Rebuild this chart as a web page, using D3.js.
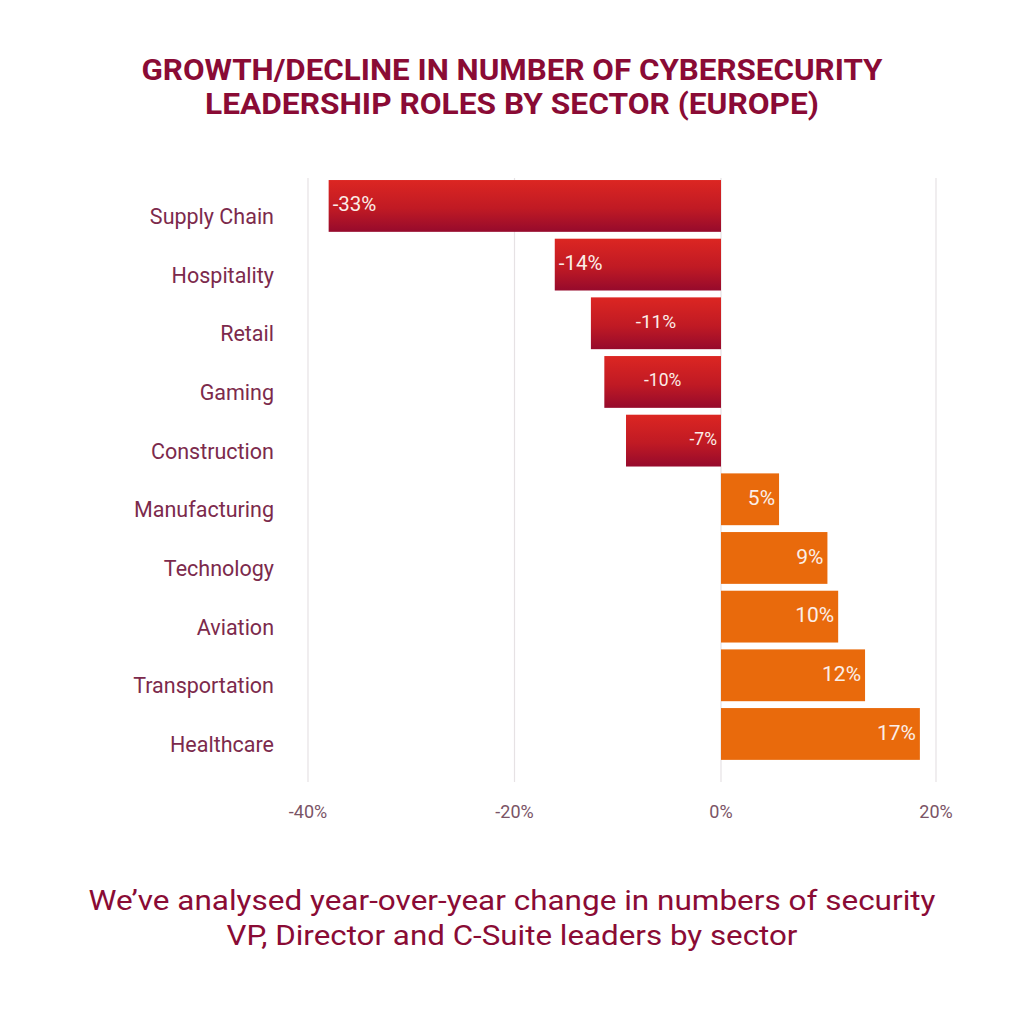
<!DOCTYPE html>
<html>
<head>
<meta charset="utf-8">
<script src="https://cdn.jsdelivr.net/npm/d3@7"></script>
<style>
  html, body { margin: 0; padding: 0; background: #ffffff; }
  svg { display: block; }
</style>
</head>
<body>
<svg id="chart" width="1024" height="1024"></svg>
<script>
// ---- data ----
const categories = ["Supply Chain", "Hospitality", "Retail", "Gaming", "Construction",
                    "Manufacturing", "Technology", "Aviation", "Transportation", "Healthcare"];
// bar lengths as drawn on the axis
const barValues = [-38.0, -16.1, -12.6, -11.3, -9.2, 5.4, 9.9, 10.9, 13.4, 18.5];
// value labels printed on the bars
const valueLabels = ["-33%", "-14%", "-11%", "-10%", "-7%", "5%", "9%", "10%", "12%", "17%"];
const tickValues = [-40, -20, 0, 20];
const tickLabels = ["-40%", "-20%", "0%", "20%"];
const titleLines = ["GROWTH/DECLINE IN NUMBER OF CYBERSECURITY", "LEADERSHIP ROLES BY SECTOR (EUROPE)"];
const subtitleLines = ["We\u2019ve analysed year-over-year change in numbers of security",
                       "VP, Director and C-Suite leaders by sector"];

// ---- label placement config (style, not data) ----
const labelAlign = ["start", "start", "middle", "middle", "end", "end", "end", "end", "end", "end"];
const labelSize  = [20.5, 20.5, 19, 17.5, 17.5, 21, 21, 21, 21, 21];

const svg = d3.select("#chart");
const FONT = "Roboto, 'DejaVu Sans', sans-serif";

const x = d3.scaleLinear().domain([-40, 0, 20]).range([308, 721, 936]);
const y = d3.scaleBand().domain(categories).range([176.6, 763.3])
            .paddingInner(0.117).paddingOuter(0.0585);

const defs = svg.append("defs");
const grad = defs.append("linearGradient").attr("id", "redGrad")
  .attr("x1", 0).attr("y1", 0).attr("x2", 0).attr("y2", 1);
grad.append("stop").attr("offset", "0%").attr("stop-color", "#dc2622");
grad.append("stop").attr("offset", "55%").attr("stop-color", "#c01a24");
grad.append("stop").attr("offset", "100%").attr("stop-color", "#960a2c");

// gridlines
svg.append("g").selectAll("line").data(tickValues).join("line")
  .attr("x1", d => x(d)).attr("x2", d => x(d))
  .attr("y1", 178).attr("y2", 782)
  .attr("stroke", "#e6e2e4").attr("stroke-width", 1.2);

// bars
svg.append("g").selectAll("rect").data(categories).join("rect")
  .attr("x", (d, i) => Math.min(x(0), x(barValues[i])))
  .attr("y", d => y(d))
  .attr("width", (d, i) => Math.abs(x(barValues[i]) - x(0)))
  .attr("height", y.bandwidth())
  .attr("fill", (d, i) => barValues[i] < 0 ? "url(#redGrad)" : "#e96a0c");

// value labels
svg.append("g").selectAll("text").data(categories).join("text")
  .attr("x", (d, i) => {
    const x0 = Math.min(x(0), x(barValues[i])), x1 = Math.max(x(0), x(barValues[i]));
    if (labelAlign[i] === "start") return x0 + 4;
    if (labelAlign[i] === "middle") return (x0 + x1) / 2;
    return x1 - 4;
  })
  .attr("y", (d, i) => y(d) + y.bandwidth() / 2 - 2 + labelSize[i] * 0.36)
  .attr("text-anchor", (d, i) => labelAlign[i])
  .attr("font-family", FONT)
  .attr("font-size", (d, i) => labelSize[i])
  .attr("fill", "#fbeee8")
  .text((d, i) => valueLabels[i]);

// category labels
svg.append("g").selectAll("text").data(categories).join("text")
  .attr("x", 274)
  .attr("y", d => y(d) + y.bandwidth() / 2 + 18)
  .attr("text-anchor", "end")
  .attr("font-family", FONT)
  .attr("font-size", 21.5)
  .attr("fill", "#7c2a4c")
  .text(d => d);

// x axis tick labels
svg.append("g").selectAll("text").data(tickValues).join("text")
  .attr("x", d => x(d))
  .attr("y", 818)
  .attr("text-anchor", "middle")
  .attr("font-family", FONT)
  .attr("font-size", 18)
  .attr("fill", "#7a5466")
  .text((d, i) => tickLabels[i]);

// title
const titleWidths = [741, 614];
svg.append("g").selectAll("text").data(titleLines).join("text")
  .attr("x", 512)
  .attr("y", (d, i) => 80 + i * 34)
  .attr("text-anchor", "middle")
  .attr("font-family", FONT)
  .attr("font-weight", 700)
  .attr("font-size", 29)
  .attr("fill", "#8a0b35")
  .attr("textLength", (d, i) => titleWidths[i])
  .attr("lengthAdjust", "spacingAndGlyphs")
  .text(d => d);

// subtitle
const subWidths = [847, 571];
svg.append("g").selectAll("text").data(subtitleLines).join("text")
  .attr("x", 512)
  .attr("y", (d, i) => 910 + i * 35)
  .attr("text-anchor", "middle")
  .attr("font-family", FONT)
  .attr("font-size", 27.5)
  .attr("fill", "#8a0b35")
  .attr("textLength", (d, i) => subWidths[i])
  .attr("lengthAdjust", "spacingAndGlyphs")
  .text(d => d);
</script>
</body>
</html>
